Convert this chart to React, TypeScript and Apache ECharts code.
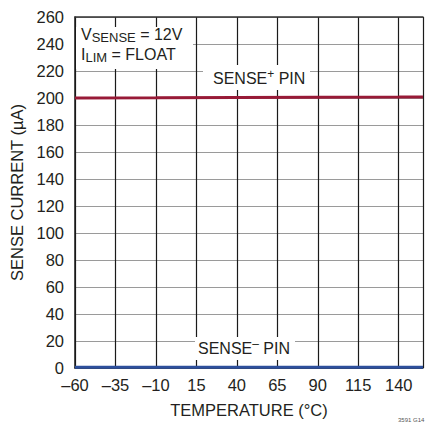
import React, { useEffect, useRef } from "react";
import * as echarts from "echarts";

const TEMPS = [-60, -10, 40, 90, 140, 155];
const SENSE_PLUS = [200.0, 200.1, 200.3, 200.5, 200.7, 200.8];
const SENSE_MINUS = [0.5, 0.5, 0.5, 0.5, 0.5, 0.5];
const X_TICKS = [-60, -35, -10, 15, 40, 65, 90, 115, 140];
const Y_TICKS = [0, 20, 40, 60, 80, 100, 120, 140, 160, 180, 200, 220, 240, 260];

const FONT = "'Liberation Sans', Arial, sans-serif";
const INK = "#231f20";

export default function App() {
  const ref = useRef<HTMLDivElement>(null);
  useEffect(() => {
    if (!ref.current) return;
    const chart = echarts.init(ref.current, undefined, { renderer: "svg" });
    const main = { fontSize: 16, lineHeight: 20, fontFamily: FONT, color: INK };
    const sub = { fontSize: 13, lineHeight: 12, verticalAlign: "bottom", fontFamily: FONT, color: INK };
    const sup = { fontSize: 12, lineHeight: 10, verticalAlign: "top", fontFamily: FONT, color: INK };
    chart.setOption({
      animation: false,
      backgroundColor: "#ffffff",
      textStyle: { fontFamily: FONT, color: INK },
      grid: { left: 75, top: 17, right: 0, bottom: 54, containLabel: false },
      xAxis: [
        {
          type: "value",
          min: X_TICKS[0],
          max: 155,
          interval: 25,
          name: "TEMPERATURE (°C)",
          nameLocation: "middle",
          nameGap: 33,
          nameTextStyle: { fontSize: 16.5, color: INK, fontFamily: FONT },
          axisLine: { show: true, onZero: false, lineStyle: { color: "#1a1a1a", width: 1.5 } },
          axisTick: { show: false },
          axisLabel: {
            fontSize: 16.5,
            color: INK,
            fontFamily: FONT,
            margin: 8,
            formatter: (v: number) => (v > 140 ? "" : String(v).replace("-", "\u2013")),
          },
          splitLine: { show: true, lineStyle: { color: "#1a1a1a", width: 1.2 } },
        },
        {
          type: "value",
          position: "top",
          min: X_TICKS[0],
          max: 155,
          axisLine: { show: true, onZero: false, lineStyle: { color: "#333333", width: 1.5 } },
          axisTick: { show: false },
          axisLabel: { show: false },
          splitLine: { show: false },
        },
      ],
      yAxis: {
        type: "value",
        min: Y_TICKS[0],
        max: Y_TICKS[Y_TICKS.length - 1],
        interval: 20,
        name: "SENSE CURRENT (µA)",
        nameLocation: "middle",
        nameGap: 49,
        nameTextStyle: { fontSize: 16.5, color: INK, fontFamily: FONT },
        axisLine: { show: true, onZero: false, lineStyle: { color: "#1a1a1a", width: 1.5 } },
        axisTick: { show: false },
        axisLabel: { fontSize: 16.5, color: INK, fontFamily: FONT, margin: 11 },
        splitLine: { show: true, lineStyle: { color: "#9a9a9a", width: 1.2 } },
      },
      series: [
        {
          type: "line",
          data: TEMPS.map((t, i) => [t, SENSE_PLUS[i]]),
          showSymbol: false,
          clip: false,
          lineStyle: { color: "#981a37", width: 3 },
          z: 5,
        },
        {
          type: "line",
          data: TEMPS.map((t, i) => [t, SENSE_MINUS[i]]),
          showSymbol: false,
          clip: false,
          lineStyle: { color: "#2d4f9c", width: 3 },
          z: 5,
        },
      ],
      graphic: [
        { type: "rect", shape: { x: 76, y: 27, width: 117, height: 42 }, style: { fill: "#ffffff" }, z: 10 },
        {
          type: "text",
          x: 81,
          y: 24,
          z: 11,
          style: {
            text: "{a|V}{b|SENSE}{a| = 12V}\n{a|I}{b|LIM}{a| = FLOAT}",
            rich: { a: main, b: sub },
            fontFamily: FONT,
            fontSize: 16,
            fill: INK,
          },
        },
        { type: "rect", shape: { x: 203, y: 65, width: 107, height: 25 }, style: { fill: "#ffffff" }, z: 10 },
        {
          type: "text",
          x: 213,
          y: 68,
          z: 11,
          style: {
            text: "{a|SENSE}{c|+}{a| PIN}",
            rich: { a: main, c: sup },
            fontFamily: FONT,
            fontSize: 16,
            fill: INK,
          },
        },
        { type: "rect", shape: { x: 195, y: 337, width: 100, height: 23 }, style: { fill: "#ffffff" }, z: 10 },
        {
          type: "text",
          x: 198,
          y: 338,
          z: 11,
          style: {
            text: "{a|SENSE}{c|\u2013}{a| PIN}",
            rich: { a: main, c: sup },
            fontFamily: FONT,
            fontSize: 16,
            fill: INK,
          },
        },
        {
          type: "text",
          x: 398,
          y: 417,
          z: 11,
          style: { text: "3591 G14", fontSize: 6, fontFamily: FONT, fill: "#555555" },
        },
      ],
    });
    return () => chart.dispose();
  }, []);
  return <div ref={ref} style={{ width: 426, height: 423, position: "absolute", left: 0, top: 0 }} />;
}
